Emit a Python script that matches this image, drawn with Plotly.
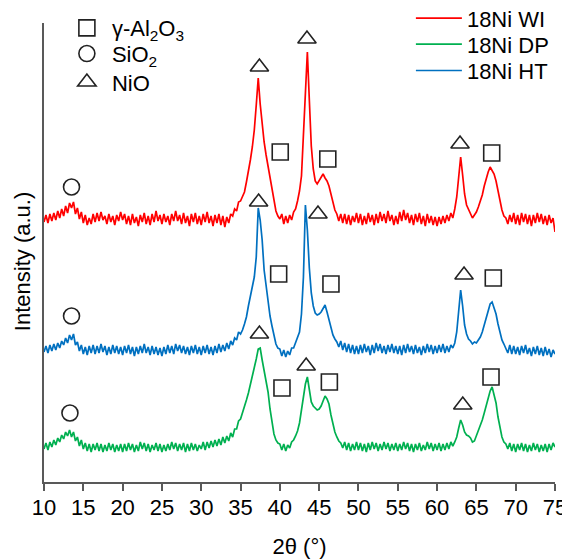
import plotly.graph_objects as go

# 2-theta grid: 10.00 .. 75.00 in 0.25 degree steps (rows of 20 values = 5 degrees)
theta = [round(10 + 0.25 * i, 2) for i in range(261)]

wi = [  # 18Ni WI (red), offset trace
    260, 267, 259, 268, 261, 269, 262, 271, 264, 273, 266, 276, 269, 279, 274, 280, 268, 274, 263, 270,
    259, 267, 257, 264, 258, 268, 260, 269, 261, 270, 262, 266, 258, 268, 260, 266, 257, 267, 261, 270,
    262, 268, 258, 266, 257, 268, 259, 265, 256, 267, 260, 269, 258, 266, 257, 268, 260, 271, 261, 267,
    258, 268, 260, 266, 257, 268, 261, 271, 261, 267, 258, 269, 259, 266, 256, 268, 260, 269, 258, 266,
    257, 268, 260, 270, 259, 266, 256, 267, 259, 268, 257, 266, 255, 265, 259, 268, 266, 273, 271, 280,
    281, 286, 290, 300, 310, 322, 335, 352, 377, 404, 378, 356, 340, 327, 316, 303, 290, 279, 271, 266,
    263, 268, 258, 266, 259, 267, 262, 270, 273, 281, 291, 306, 350, 392, 430, 382, 336, 313, 301, 298,
    301, 304, 308, 304, 301, 296, 287, 279, 272, 268, 261, 268, 259, 268, 258, 267, 257, 266, 260, 269,
    259, 268, 257, 266, 258, 269, 260, 267, 257, 268, 259, 270, 261, 268, 259, 271, 261, 267, 257, 266,
    258, 270, 261, 272, 262, 269, 259, 267, 257, 268, 260, 269, 258, 266, 256, 268, 259, 266, 257, 265,
    256, 265, 258, 266, 259, 267, 261, 269, 264, 273, 285, 305, 325, 307, 288, 277, 272, 268, 264, 267,
    270, 275, 280, 287, 296, 304, 310, 315, 312, 308, 301, 291, 280, 272, 266, 264, 258, 267, 260, 269,
    258, 267, 257, 269, 260, 268, 258, 267, 256, 267, 259, 269, 260, 268, 258, 266, 257, 267, 259, 264,
    250,
]

ht = [  # 18Ni HT (blue)
    130, 136, 129, 137, 131, 138, 132, 139, 134, 141, 137, 144, 139, 147, 142, 148, 137, 140, 131, 137,
    128, 135, 127, 136, 129, 137, 128, 136, 129, 138, 130, 136, 127, 135, 128, 137, 129, 136, 128, 135,
    127, 136, 129, 137, 128, 135, 126, 135, 128, 136, 129, 138, 129, 135, 127, 136, 128, 135, 127, 134,
    126, 135, 128, 137, 129, 136, 128, 138, 131, 137, 129, 136, 128, 135, 127, 136, 129, 137, 128, 135,
    127, 136, 129, 137, 128, 135, 127, 136, 129, 138, 130, 137, 131, 139, 133, 141, 137, 144, 142, 150,
    148, 152, 158, 165, 176, 187, 195, 205, 225, 274, 262, 242, 212, 195, 179, 166, 156, 145, 138, 134,
    133, 126, 132, 125, 131, 127, 134, 134, 139, 144, 150, 168, 205, 277, 252, 214, 189, 176, 169, 167,
    168, 170, 173, 177, 170, 162, 154, 147, 143, 140, 135, 141, 132, 139, 130, 138, 129, 137, 128, 136,
    128, 137, 129, 138, 130, 136, 127, 137, 129, 139, 131, 138, 129, 136, 128, 137, 130, 138, 129, 136,
    128, 136, 127, 137, 129, 138, 130, 136, 128, 137, 129, 135, 127, 136, 129, 138, 130, 137, 128, 136,
    129, 137, 130, 138, 129, 136, 130, 137, 134, 139, 150, 172, 192, 176, 157, 148, 143, 141, 138, 140,
    139, 142, 145, 150, 157, 166, 173, 178, 180, 175, 168, 158, 149, 142, 138, 134, 129, 137, 128, 136,
    128, 135, 127, 136, 129, 137, 128, 134, 126, 135, 128, 136, 127, 134, 126, 135, 127, 133, 125, 132,
    128,
]

dp = [  # 18Ni DP (green)
    33, 39, 32, 40, 35, 42, 37, 44, 40, 47, 43, 50, 46, 52, 45, 50, 41, 45, 36, 42,
    33, 39, 31, 38, 30, 38, 32, 39, 31, 38, 30, 37, 31, 39, 32, 38, 30, 37, 31, 38,
    30, 38, 31, 39, 32, 38, 30, 37, 31, 40, 33, 39, 31, 38, 30, 37, 32, 39, 31, 38,
    30, 37, 31, 38, 32, 40, 33, 39, 31, 38, 32, 39, 30, 38, 31, 39, 32, 38, 31, 37,
    33, 40, 32, 40, 34, 41, 35, 42, 36, 43, 37, 45, 39, 46, 41, 49, 45, 53, 53, 61,
    63, 69, 74, 82, 89, 97, 104, 113, 123, 133, 134, 122, 111, 102, 90, 73, 58, 48, 42, 39,
    38, 32, 38, 31, 37, 34, 40, 42, 46, 51, 59, 72, 88, 98, 105, 90, 80, 76, 74, 72,
    73, 76, 81, 86, 83, 78, 67, 57, 50, 45, 41, 39, 34, 40, 32, 39, 31, 38, 32, 40,
    32, 39, 31, 38, 30, 39, 32, 40, 33, 39, 31, 38, 32, 40, 33, 39, 31, 38, 32, 39,
    31, 38, 32, 40, 33, 39, 31, 38, 30, 38, 32, 39, 31, 37, 32, 40, 33, 39, 31, 38,
    32, 39, 31, 38, 32, 39, 33, 40, 36, 40, 45, 54, 62, 57, 50, 47, 46, 44, 40, 41,
    46, 52, 57, 62, 69, 77, 84, 91, 95, 88, 79, 65, 54, 45, 40, 38, 33, 39, 31, 38,
    30, 38, 32, 39, 31, 38, 30, 37, 31, 39, 32, 38, 30, 37, 31, 38, 30, 38, 32, 39,
    35,
]

assert len(wi) == len(ht) == len(dp) == len(theta)

# phase markers (2theta, height) above each pattern
al2o3_x = [40.05, 46.1, 66.95, 39.85, 46.5, 67.15, 40.27, 46.3, 66.86]
al2o3_y = [330, 323, 329, 208, 198, 204, 94, 100, 105]
sio2_x = [13.5, 13.5, 13.3]
sio2_y = [295, 166, 69]
nio_x = [37.4, 43.45, 62.92, 37.3, 44.85, 63.43, 37.4, 43.35, 63.27]
nio_y = [415, 443, 338, 280, 268, 207, 148, 116, 77]

series_names = ["18Ni WI", "18Ni DP", "18Ni HT"]
series_colors = ["#FF0000", "#00B050", "#0070C0"]
phase_names = ["γ-Al<sub>2</sub>O<sub>3</sub>", "SiO<sub>2</sub>", "NiO"]
x_ticks = [10, 15, 20, 25, 30, 35, 40, 45, 50, 55, 60, 65, 70, 75]

FONT = "Arial, Liberation Sans, sans-serif"
fig = go.Figure()
series_legends = ["legend", "legend3", "legend4"]
for name, vals, col, lg in zip(series_names, [wi, dp, ht], series_colors, series_legends):
    fig.add_trace(go.Scatter(x=theta, y=vals, mode="lines", name=name,
                             line=dict(color=col, width=1.7), legend=lg))

mk = dict(color="#222222", size=16, line=dict(color="#222222", width=1.6))
phase_legends = ["legend2", "legend5", "legend6"]
for name, xs, ys, sym, lg in zip(phase_names, [al2o3_x, sio2_x, nio_x], [al2o3_y, sio2_y, nio_y],
                                 ["square-open", "circle-open", "triangle-up-open"], phase_legends):
    fig.add_trace(go.Scatter(x=xs, y=ys, mode="markers", name=name,
                             marker=dict(symbol=sym, **mk), legend=lg))


def lg_box(x, y, iw=30):
    return dict(x=x, y=y, xanchor="left", yanchor="middle", bgcolor="rgba(0,0,0,0)",
                font=dict(size=22), itemwidth=iw, tracegroupgap=0)


fig.update_layout(
    width=562, height=552,
    margin=dict(l=36, r=15, t=15, b=78, autoexpand=False),
    paper_bgcolor="white", plot_bgcolor="white",
    font=dict(family=FONT, size=22, color="#000000"),
    showlegend=True,
    legend=lg_box(0.718, 1.010, 46),
    legend3=lg_box(0.718, 0.9536, 46),
    legend4=lg_box(0.718, 0.8961, 46),
    legend2=lg_box(0.035, 0.989, 40),
    legend5=lg_box(0.035, 0.933, 40),
    legend6=lg_box(0.035, 0.871, 40),
    xaxis=dict(range=[10, 75], tickvals=x_ticks, ticks="outside", ticklen=7,
               tickcolor="#595959", tickwidth=1.5, showline=True, linecolor="#595959",
               linewidth=1.5, showgrid=False, zeroline=False,
               tickfont=dict(size=22), ticklabelstandoff=-2,
               title=dict(text="2θ (°)", font=dict(size=22), standoff=19)),
    yaxis=dict(range=[0, 459], showticklabels=False, ticks="", showline=True,
               linecolor="#595959", linewidth=1.5, showgrid=False, zeroline=False),
    annotations=[dict(text="Intensity (a.u.)", textangle=-90, xref="paper", yref="paper",
                      x=-0.043, y=0.479, xanchor="center", yanchor="middle",
                      showarrow=False, font=dict(size=22))],
)

fig.write_html("out.html")
